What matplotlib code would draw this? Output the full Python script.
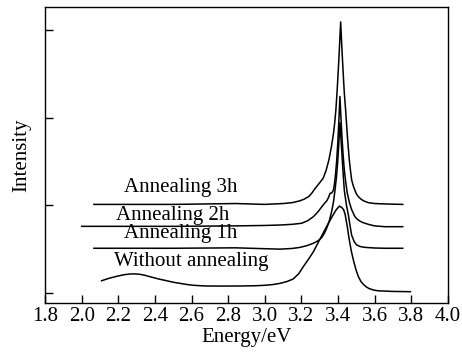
import matplotlib
matplotlib.use("Agg")
import matplotlib.pyplot as plt

plt.rcParams['font.family'] = ['Liberation Serif', 'DejaVu Serif']

# Photoluminescence spectra, offset vertically
e_wo = [2.109, 2.15, 2.191, 2.23, 2.264, 2.29, 2.319, 2.345, 2.373, 2.42, 2.464,
        2.50, 2.537, 2.575, 2.61, 2.65, 2.683, 2.75, 2.864, 2.95, 3.00, 3.046,
        3.083, 3.12, 3.155, 3.185, 3.21, 3.24, 3.265, 3.30, 3.338, 3.37, 3.39,
        3.407, 3.42, 3.43, 3.438, 3.45, 3.46, 3.472, 3.483, 3.497, 3.51, 3.525,
        3.54, 3.555, 3.57, 3.595, 3.62, 3.70, 3.795]
i_wo = [0.14, 0.168, 0.19, 0.208, 0.217, 0.218, 0.213, 0.202, 0.186, 0.16, 0.14,
        0.123, 0.11, 0.097, 0.088, 0.083, 0.08, 0.079, 0.08, 0.083, 0.088, 0.097,
        0.11, 0.13, 0.16, 0.22, 0.30, 0.39, 0.47, 0.61, 0.76, 0.88, 0.95,
        0.99, 0.975, 0.95, 0.90, 0.76, 0.62, 0.48, 0.38, 0.27, 0.19, 0.13,
        0.095, 0.068, 0.05, 0.033, 0.025, 0.018, 0.015]

e_1h = [2.067, 2.5, 2.84, 3.00, 3.083, 3.15, 3.192, 3.23, 3.265, 3.29, 3.31,
        3.325, 3.34, 3.353, 3.365, 3.375, 3.383, 3.391, 3.398, 3.404, 3.41,
        3.416, 3.422, 3.428, 3.434, 3.445, 3.456, 3.465, 3.474, 3.487, 3.50,
        3.52, 3.547, 3.60, 3.656, 3.753]
i_1h = [0.51, 0.51, 0.515, 0.505, 0.50, 0.508, 0.52, 0.54, 0.567, 0.595, 0.63,
        0.68, 0.75, 0.83, 0.93, 1.04, 1.17, 1.32, 1.50, 1.70, 1.94,
        1.75, 1.55, 1.35, 1.17, 1.01, 0.89, 0.77, 0.66, 0.59, 0.55,
        0.53, 0.52, 0.513, 0.51, 0.51]

e_2h = [2.0, 2.5, 2.84, 3.00, 3.083, 3.15, 3.201, 3.235, 3.265, 3.29, 3.31,
        3.325, 3.338, 3.348, 3.356, 3.365, 3.374, 3.38, 3.385, 3.392, 3.398,
        3.404, 3.41, 3.416, 3.422, 3.428, 3.434, 3.442, 3.45, 3.462, 3.474,
        3.492, 3.505, 3.519, 3.533, 3.547, 3.57, 3.60, 3.656, 3.753]
i_2h = [0.76, 0.76, 0.765, 0.77, 0.775, 0.783, 0.795, 0.825, 0.87, 0.925, 0.98,
        1.02, 1.05, 1.09, 1.137, 1.14, 1.17, 1.24, 1.33, 1.50, 1.70,
        1.95, 2.24, 1.98, 1.75, 1.56, 1.40, 1.26, 1.14, 1.03, 0.95,
        0.87, 0.84, 0.82, 0.805, 0.795, 0.78, 0.765, 0.756, 0.756]

e_3h = [2.067, 2.5, 2.84, 3.0, 3.10, 3.15, 3.19, 3.215, 3.24, 3.257, 3.274,
        3.297, 3.319, 3.335, 3.35, 3.363, 3.375, 3.382, 3.388, 3.394, 3.400,
        3.407, 3.414, 3.421, 3.428, 3.434, 3.441, 3.451, 3.461, 3.468, 3.474,
        3.483, 3.492, 3.50, 3.51, 3.525, 3.54, 3.565, 3.60, 3.656, 3.753]
i_3h = [1.01, 1.01, 1.02, 1.01, 1.02, 1.03, 1.05, 1.07, 1.10, 1.14, 1.19,
        1.25, 1.31, 1.40, 1.52, 1.66, 1.82, 1.95, 2.09, 2.28, 2.50,
        2.78, 3.09, 2.78, 2.50, 2.28, 2.09, 1.78, 1.52, 1.39, 1.29,
        1.22, 1.17, 1.13, 1.10, 1.07, 1.05, 1.03, 1.02, 1.015, 1.01]

labels = ["Without annealing", "Annealing 1h", "Annealing 2h", "Annealing 3h"]
label_x = [2.596, 2.541, 2.499, 2.542]
label_y = [0.357, 0.684, 0.889, 1.197]

x_ticks = [1.8, 2.0, 2.2, 2.4, 2.6, 2.8, 3.0, 3.2, 3.4, 3.6, 3.8, 4.0]
y_ticks = [0, 1, 2, 3]

fig = plt.figure(figsize=(4.62, 3.58), dpi=100)
ax = fig.add_axes([0.0974, 0.1536, 0.8723, 0.8268])

for e, i in [(e_wo, i_wo), (e_1h, i_1h), (e_2h, i_2h), (e_3h, i_3h)]:
    ax.plot(e, i, color='black', linewidth=1.1, solid_joinstyle='round')

for text, x, y in zip(labels, label_x, label_y):
    ax.text(x, y, text, ha='center', va='center', fontsize=15)

ax.set_xlim(1.8, 4.0)
ax.set_ylim(-0.114, 3.26)
ax.set_xticks(x_ticks)
ax.set_xticklabels([f"{t:.1f}" for t in x_ticks])
ax.set_yticks(y_ticks)
ax.set_yticklabels([])
ax.tick_params(axis='both', direction='in', length=5.5, width=1, labelsize=15, pad=3)
ax.set_xlabel('Energy/eV', fontsize=15, labelpad=1)
ax.set_ylabel('Intensity', fontsize=15, labelpad=7)
for s in ax.spines.values():
    s.set_linewidth(1)

fig.savefig('out.png', dpi=100)
